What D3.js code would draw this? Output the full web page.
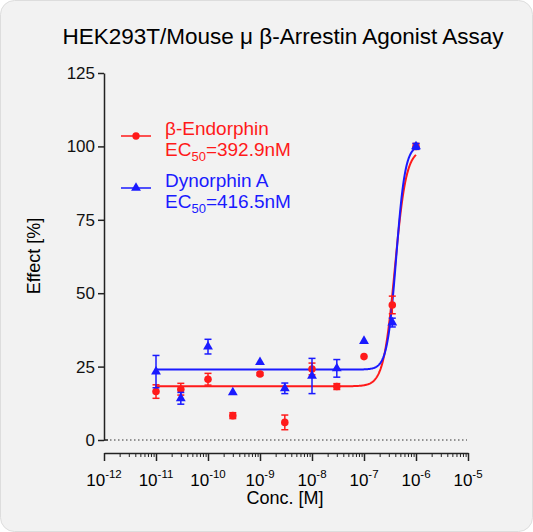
<!DOCTYPE html>
<html><head><meta charset="utf-8">
<script src="https://cdn.jsdelivr.net/npm/d3@7"></script>
<style>body{margin:0;background:#fff}svg{font-family:Arial,"Liberation Sans",sans-serif}</style>
</head><body><svg id="c" width="533" height="532"></svg>
<script>
const conc = [1e-11,3e-11,1e-10,3e-10,1e-9,3e-9,1e-8,3e-8,1e-7,3.5e-7,1e-6];
const endoMean = [16.5,17.3,20.7,8.3,22.5,6,24.2,18.2,28.4,46,100];
const endoErr  = [2.3,2,2,1,0.5,2.5,2,1,0,3,1];
const dynoMean = [23.3,14.2,31.8,16.2,26.5,17.6,21.8,24.4,33.7,40,100];
const dynoErr  = [5.5,2,2.5,0,0,1.8,6,3,0,1.5,1];
const endoFit = {bottom:18.3, top:99, ec50:392.9e-9, hill:4};
const dynoFit = {bottom:24, top:100.5, ec50:416.5e-9, hill:5};
const yTicks = [0,25,50,75,100,125];
const xTickExp = [-12,-11,-10,-9,-8,-7,-6,-5];

const svg = d3.select("#c");
svg.append("rect").attr("x",0.5).attr("y",0.5).attr("width",532).attr("height",531).attr("rx",14).attr("fill","#f2f2f2").attr("stroke","#ddd");
const x = d3.scaleLog().domain([1e-12,1e-5]).range([104,468]);
const y = d3.scaleLinear().domain([0,125]).range([440,73]);

svg.append("text").attr("x",283).attr("y",44).attr("text-anchor","middle").attr("font-size",22.5).text("HEK293T/Mouse μ β-Arrestin Agonist Assay");

const ya = svg.append("g").attr("transform","translate(104,0)").call(d3.axisLeft(y).tickValues(yTicks).tickSize(6).tickSizeOuter(0));
ya.select(".domain").attr("stroke","#222").attr("stroke-width",1.5);
ya.selectAll(".tick line").attr("stroke","#222").attr("stroke-width",1.5);
ya.selectAll("text").attr("font-size",17).attr("fill","#111").attr("font-family","Arial,'Liberation Sans',sans-serif");
svg.append("line").attr("x1",104).attr("x2",108).attr("y1",440).attr("y2",440).attr("stroke","#222").attr("stroke-width",1.5);
svg.append("text").attr("transform","translate(40,256) rotate(-90)").attr("text-anchor","middle").attr("font-size",18).text("Effect  [%]");
svg.append("line").attr("x1",110).attr("x2",467).attr("y1",y(0)).attr("y2",y(0)).attr("stroke","#333").attr("stroke-dasharray","1.5,2.5");

const minor=[];
for(let e=-12;e<-5;e++) for(let m=2;m<=9;m++) minor.push(m*Math.pow(10,e));
const xg = svg.append("g").attr("transform","translate(0,453)");
xg.call(d3.axisBottom(x).tickValues(minor).tickSize(4).tickFormat("").tickSizeOuter(0));
xg.select(".domain").attr("stroke","#222").attr("stroke-width",1.5);
xg.selectAll(".tick line").attr("stroke","#222").attr("stroke-width",1);
const xg2 = svg.append("g").attr("transform","translate(0,453)");
xg2.call(d3.axisBottom(x).tickValues(xTickExp.map(e=>Math.pow(10,e))).tickSize(8).tickFormat("").tickSizeOuter(0));
xg2.select(".domain").remove();
xg2.selectAll(".tick line").attr("stroke","#222").attr("stroke-width",1.5);
xTickExp.forEach(e=>{
  const t=svg.append("text").attr("x",x(Math.pow(10,e))).attr("y",486).attr("text-anchor","middle").attr("font-size",17);
  t.append("tspan").text("10");
  t.append("tspan").attr("dy",-8).attr("font-size",11.5).text("-"+(-e));
});
svg.append("text").attr("x",285).attr("y",504).attr("text-anchor","middle").attr("font-size",18).text("Conc. [M]");

function curve(f,col){
  const xs=d3.range(-11,-5.99,0.01).map(v=>Math.pow(10,v));
  svg.append("path").datum(xs).attr("fill","none").attr("stroke",col).attr("stroke-width",2)
    .attr("d",d3.line().x(d=>x(d)).y(d=>y(f.bottom+(f.top-f.bottom)/(1+Math.pow(f.ec50/d,f.hill)))));
}
curve(endoFit,"#ff1a1a");
curve(dynoFit,"#1a1aff");

function pts(mean,err,col,shape){
  const g=svg.append("g").attr("stroke",col).attr("fill",col).attr("stroke-width",1.5);
  conc.forEach((c,i)=>{
    const cx=x(c);
    if(err[i]>0){
      g.append("line").attr("x1",cx).attr("x2",cx).attr("y1",y(mean[i]-err[i])).attr("y2",y(mean[i]+err[i]));
      [mean[i]-err[i],mean[i]+err[i]].forEach(v=>g.append("line").attr("x1",cx-3.5).attr("x2",cx+3.5).attr("y1",y(v)).attr("y2",y(v)));
    }
    g.append("path").attr("stroke","none").attr("transform",`translate(${cx},${y(mean[i])})`)
      .attr("d",d3.symbol().type(shape).size(shape===d3.symbolCircle?45:42)());
  });
}
pts(endoMean,endoErr,"#ff1a1a",d3.symbolCircle);
pts(dynoMean,dynoErr,"#1a1aff",d3.symbolTriangle);

function legend(yy,col,shape,name,ec){
  svg.append("line").attr("x1",121).attr("x2",151).attr("y1",yy).attr("y2",yy).attr("stroke",col).attr("stroke-width",1.5);
  svg.append("path").attr("fill",col).attr("transform",`translate(136,${yy})`).attr("d",d3.symbol().type(shape).size(42)());
  svg.append("text").attr("x",165).attr("y",yy-1).attr("font-size",19).attr("fill",col).text(name);
  const t=svg.append("text").attr("x",165).attr("y",yy+20).attr("font-size",19).attr("fill",col);
  t.append("tspan").text("EC");
  t.append("tspan").attr("dy",5).attr("font-size",13).text("50");
  t.append("tspan").attr("dy",-5).text("="+ec);
}
legend(136,"#ff1a1a",d3.symbolCircle,"β-Endorphin","392.9nM");
legend(188,"#1a1aff",d3.symbolTriangle,"Dynorphin A","416.5nM");
</script></body></html>
